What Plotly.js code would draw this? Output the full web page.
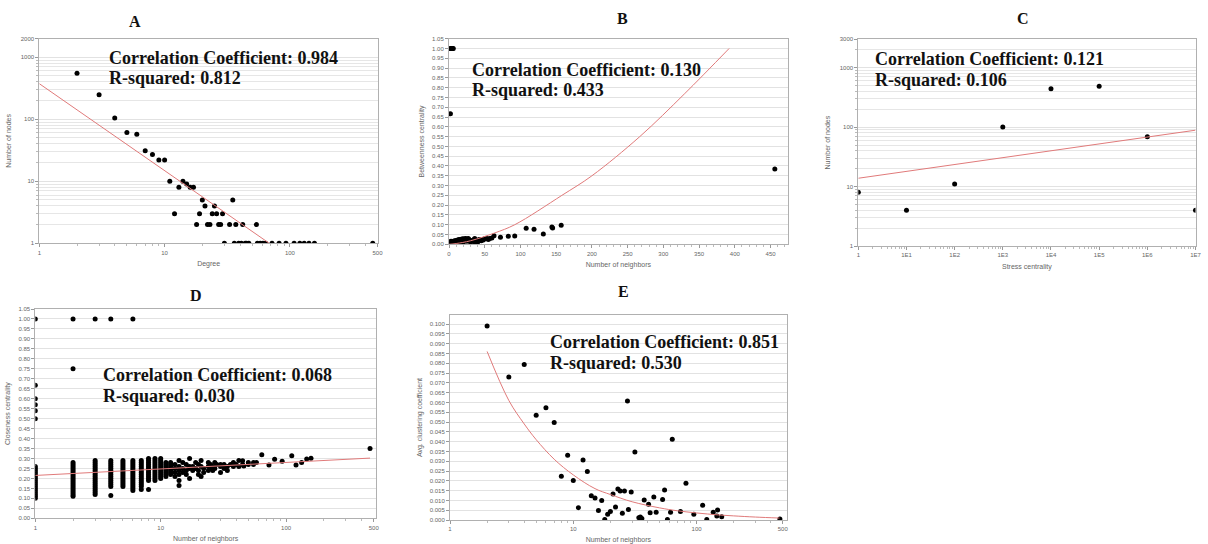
<!DOCTYPE html>
<html><head><meta charset="utf-8">
<script src="https://cdn.plot.ly/plotly-3.0.1.min.js"></script>
<style>html,body{margin:0;padding:0;background:#fff}#chart{width:1208px;height:544px}</style>
</head><body><div id="chart"></div>
<script>
// ---------- Panel A: degree distribution ----------
const aDegree = [2,3,4,5,6,7,8,9,10,11,12,13,14,15,16,17,18,19,20,21,22,23,24,25,26,27,28,29,30,33,35,36,37,39,41,42,44,45,47,54,55,58,61,64,72,82,93,108,120,130,142,157,458];
const aNodes  = [550,248,105,61,57,31,27,22,22,10,3,8,10,9,8,8,2,3,5,4,2,2,3,4,3,2,2,3,1,2,5,1,2,1,1,2,1,1,1,2,1,1,1,1,1,1,1,1,1,1,1,1,1];
const aFitX = [1, 68.5];
const aFitY = [374, 1];

// ---------- Panel B: betweenness centrality ----------
const bNeighbors = [2,3,4,5,6,2,
  1,2,3,4,5,6,7,8,9,10,11,12,13,14,15,16,17,18,19,20,21,22,23,24,25,26,27,28,30,32,34,35,36,37,38,40,42,44,45,46,48,50,53,55,57,60,
  2,5,8,12,15,20,25,30,35,40,
  63,72,83,92,108,119,132,144,145,157,456];
const bBetweenness = [1.0,1.0,1.0,1.0,1.0,0.667,
  0.010,0.012,0.015,0.010,0.013,0.015,0.012,0.018,0.016,0.020,0.015,0.022,0.018,0.025,0.020,0.024,0.018,0.027,0.022,0.028,0.020,0.025,0.030,0.020,0.027,0.022,0.030,0.025,0.020,0.018,0.015,0.025,0.030,0.012,0.020,0.015,0.025,0.020,0.018,0.024,0.022,0.028,0.030,0.025,0.030,0.032,
  0.005,0.006,0.008,0.010,0.012,0.010,0.015,0.012,0.014,0.010,
  0.044,0.036,0.041,0.042,0.082,0.077,0.053,0.088,0.083,0.097,0.385];
const bFitX = [0, 10, 30, 64, 92, 158, 200, 267, 330, 392];
const bFitY = [0, 0.004, 0.018, 0.058, 0.10, 0.25, 0.35, 0.55, 0.77, 1.0];

// ---------- Panel C: stress centrality ----------
const cStress = [1, 1e1, 1e2, 1e3, 1e4, 1e5, 1e6, 1e7];
const cNodes  = [8, 4, 11, 100, 440, 488, 69, 4];
const cFitX = [1, 1e7];
const cFitY = [13.8, 88.7];
const cTickVals = [1, 1e1, 1e2, 1e3, 1e4, 1e5, 1e6, 1e7];
const cTickText = ['1','1E1','1E2','1E3','1E4','1E5','1E6','1E7'];

// ---------- Panel D: closeness centrality ----------
const dColumnX = [1,2,3,4,5,6,7,8,9,10,11,12];
const dColumnY = [
  [0.10,0.11,0.12,0.13,0.14,0.15,0.16,0.17,0.18,0.19,0.20,0.21,0.22,0.23,0.24,0.25,0.26,0.50,0.54,0.57,0.60,0.667,1.00],
  [0.11,0.12,0.13,0.14,0.15,0.16,0.17,0.18,0.19,0.20,0.21,0.22,0.23,0.24,0.25,0.26,0.27,0.28,0.75,1.00],
  [0.12,0.13,0.14,0.15,0.16,0.17,0.18,0.19,0.20,0.21,0.22,0.23,0.24,0.25,0.26,0.27,0.28,0.29,1.00],
  [0.115,0.16,0.17,0.18,0.19,0.20,0.21,0.22,0.23,0.24,0.25,0.26,0.27,0.28,0.29,1.00],
  [0.16,0.17,0.18,0.19,0.20,0.21,0.22,0.23,0.24,0.25,0.26,0.27,0.28,0.29],
  [0.14,0.15,0.16,0.17,0.18,0.19,0.20,0.21,0.22,0.23,0.24,0.25,0.26,0.27,0.28,0.29,1.00],
  [0.145,0.16,0.17,0.18,0.19,0.20,0.21,0.22,0.23,0.24,0.25,0.26,0.27,0.28,0.29],
  [0.145,0.19,0.20,0.21,0.22,0.23,0.24,0.25,0.26,0.27,0.28,0.29,0.30],
  [0.19,0.20,0.21,0.22,0.23,0.24,0.25,0.26,0.27,0.28,0.29,0.30],
  [0.20,0.21,0.22,0.23,0.24,0.25,0.26,0.27,0.28,0.29,0.30],
  [0.21,0.22,0.23,0.24,0.25,0.26,0.27,0.28],
  [0.22,0.23,0.24,0.25,0.26,0.27,0.28]
];
const dScatterX = [13,13,13,13,14,14,14,14,14,14,15,15,15,16,16,16,17,17,17,17,18,18,19,19,20,20,20,21,21,21,22,22,24,24,24,25,25,26,26,27,27,28,30,30,30,32,32,34,34,36,38,38,40,42,42,45,45,46,50,50,55,55,58,64,73,81,93,111,120,133,146,158,467];
const dScatterY = [0.27,0.25,0.23,0.21,0.29,0.26,0.24,0.22,0.19,0.165,0.28,0.25,0.23,0.27,0.24,0.22,0.30,0.26,0.25,0.20,0.26,0.24,0.28,0.25,0.27,0.24,0.22,0.29,0.26,0.21,0.25,0.23,0.28,0.26,0.24,0.25,0.27,0.26,0.24,0.28,0.25,0.27,0.27,0.23,0.26,0.25,0.27,0.26,0.24,0.27,0.28,0.26,0.27,0.29,0.26,0.289,0.27,0.263,0.27,0.28,0.28,0.27,0.28,0.319,0.267,0.296,0.286,0.314,0.268,0.28,0.297,0.301,0.35];
const dFitX = [1, 467];
const dFitY = [0.215, 0.302];

// ---------- Panel E: clustering coefficient ----------
const eNeighbors = [2,3,4,5,6,7,8,9,10,11,12,13,14,15,16,17,18,19,20,21,22,23,24,25,26,27.5,28,29.5,31.6,34,35,36,37.6,40.8,42,45,47,53,55,58,61.5,63.5,74,82,95,112,121,136.5,146,148,160,474];
const eClustering = [0.099,0.073,0.0794,0.0534,0.0573,0.0498,0.0223,0.033,0.0201,0.0063,0.0306,0.0247,0.0124,0.0112,0.0049,0.0099,0.0002,0.0029,0.0043,0.0133,0.0066,0.0158,0.0148,0.0034,0.0148,0.0607,0.0054,0.0143,0.0347,0.0012,0.0015,0.0008,0.0102,0.008,0.0037,0.0117,0.004,0.0105,0.0153,0.0002,0.004,0.0412,0.0043,0.0187,0.0029,0.0075,0.0002,0.0039,0.002,0.0051,0.0017,0.0005];
const eFitX = [2,3,4,5,7,10,15,20,30,50,70,100,150,200,300,470];
const eFitY = [0.086,0.061,0.049,0.041,0.031,0.023,0.016,0.013,0.0093,0.0062,0.0047,0.0036,0.0026,0.0021,0.0015,0.001];

// ---------- Text ----------
const panelLetters = ['A','B','C','D','E'];
const statLines = [
  ['Correlation Coefficient: 0.984','R-squared: 0.812'],
  ['Correlation Coefficient: 0.130','R-squared: 0.433'],
  ['Correlation Coefficient: 0.121','R-squared: 0.106'],
  ['Correlation Coefficient: 0.068','R-squared: 0.030'],
  ['Correlation Coefficient: 0.851','R-squared: 0.530']
];
const xTitles = ['Degree','Number of neighbors','Stress centrality','Number of neighbors','Number of neighbors'];
const yTitles = ['Number of nodes','Betweenness centrality','Number of nodes','Closeness centrality','Avg. clustering coefficient'];

// ---------- build ----------
const W = 1208, H = 544;
const px = v => v / W, py = v => 1 - v / H;
const dotStyle = {color:'#000', size:5};
const fitStyle = {color:'#e07a7a', width:1};
const serif = "'Liberation Serif', 'Times New Roman', serif";
const sans = "Arial, 'Liberation Sans', sans-serif";

function flatten(xs, ys){ const X=[],Y=[]; xs.forEach((x,i)=>ys[i].forEach(y=>{X.push(x);Y.push(y);})); return [X,Y]; }
const [dColX, dColY] = flatten(dColumnX, dColumnY);

const traces = [
  {x:aDegree, y:aNodes, mode:'markers', marker:dotStyle, xaxis:'x', yaxis:'y'},
  {x:aFitX, y:aFitY, mode:'lines', line:fitStyle, xaxis:'x', yaxis:'y'},
  {x:bNeighbors, y:bBetweenness, mode:'markers', marker:dotStyle, xaxis:'x2', yaxis:'y2'},
  {x:bFitX, y:bFitY, mode:'lines', line:Object.assign({shape:'spline'}, fitStyle), xaxis:'x2', yaxis:'y2'},
  {x:cStress, y:cNodes, mode:'markers', marker:dotStyle, xaxis:'x3', yaxis:'y3'},
  {x:cFitX, y:cFitY, mode:'lines', line:fitStyle, xaxis:'x3', yaxis:'y3'},
  {x:dColX, y:dColY, mode:'markers', marker:dotStyle, xaxis:'x4', yaxis:'y4'},
  {x:dScatterX, y:dScatterY, mode:'markers', marker:dotStyle, xaxis:'x4', yaxis:'y4'},
  {x:dFitX, y:dFitY, mode:'lines', line:fitStyle, xaxis:'x4', yaxis:'y4'},
  {x:eNeighbors, y:eClustering, mode:'markers', marker:dotStyle, xaxis:'x5', yaxis:'y5'},
  {x:eFitX, y:eFitY, mode:'lines', line:Object.assign({shape:'spline'}, fitStyle), xaxis:'x5', yaxis:'y5'}
];

const tickFont = {family:sans, size:6, color:'#666'};
const titleFont = {family:sans, size:7, color:'#666'};
function axis(extra){
  return Object.assign({
    showline:true, mirror:true, linecolor:'#b0b0b0', linewidth:1,
    ticks:'outside', ticklen:3, tickcolor:'#999', tickfont:tickFont,
    showgrid:false, gridcolor:'#e2e2e2', gridwidth:1, zeroline:false, automargin:false, fixedrange:true
  }, extra);
}
const logMinorGrid = {dtick:'D1', ticks:'outside', ticklen:2, tickcolor:'#bbb', showgrid:true, gridcolor:'#e6e6e6'};
const logMinorTicks = {dtick:'D1', ticks:'outside', ticklen:2, tickcolor:'#bbb', showgrid:false};

// panel frames in pixels: [left, right, top, bottom]
const frames = [[39.3,378,38.5,243.3],[449,787.7,38.7,244.3],[858.3,1195.5,39.3,246],[35.3,376,309,518.3],[450,786.7,315,520]];
const dom = f => ({x:[px(f[0]),px(f[1])], y:[py(f[3]),py(f[2])]});

const layout = {
  width:W, height:H, margin:{l:0,r:0,t:0,b:0}, showlegend:false,
  paper_bgcolor:'#fff', plot_bgcolor:'#fff',
  xaxis: axis({type:'log', domain:dom(frames[0]).x, anchor:'y', range:[0,2.703], tickmode:'array', tickvals:[1,10,100,500], ticktext:['1','10','100','500'], minor:logMinorTicks,
    title:{text:xTitles[0], font:titleFont, standoff:6}}),
  yaxis: axis({type:'log', domain:dom(frames[0]).y, anchor:'x', range:[0,Math.log10(2000)], tickmode:'array', tickvals:[1,10,100,1000,2000], ticktext:['1','10','100','1000','2000'], showgrid:true, minor:logMinorGrid,
    title:{text:yTitles[0], font:titleFont, standoff:8}}),
  xaxis2: axis({domain:dom(frames[1]).x, anchor:'y2', range:[0,474], dtick:50, minor:{dtick:10, ticks:'outside', ticklen:2, tickcolor:'#bbb'},
    title:{text:xTitles[1], font:titleFont, standoff:6}}),
  yaxis2: axis({domain:dom(frames[1]).y, anchor:'x2', range:[0,1.05], dtick:0.05, tickformat:'.2f', showgrid:true,
    title:{text:yTitles[1], font:titleFont, standoff:6}}),
  xaxis3: axis({type:'log', domain:dom(frames[2]).x, anchor:'y3', range:[0,7], tickmode:'array', tickvals:cTickVals, ticktext:cTickText, minor:logMinorTicks,
    title:{text:xTitles[2], font:titleFont, standoff:6}}),
  yaxis3: axis({type:'log', domain:dom(frames[2]).y, anchor:'x3', range:[0,Math.log10(3000)], tickmode:'array', tickvals:[1,10,100,1000,3000], ticktext:['1','10','100','1000','3000'], showgrid:true, minor:logMinorGrid,
    title:{text:yTitles[2], font:titleFont, standoff:8}}),
  xaxis4: axis({type:'log', domain:dom(frames[3]).x, anchor:'y4', range:[0,2.717], tickmode:'array', tickvals:[1,10,100,500], ticktext:['1','10','100','500'], minor:logMinorTicks,
    title:{text:xTitles[3], font:titleFont, standoff:6}}),
  yaxis4: axis({domain:dom(frames[3]).y, anchor:'x4', range:[0,1.05], dtick:0.05, tickformat:'.2f', showgrid:true,
    title:{text:yTitles[3], font:titleFont, standoff:6}}),
  xaxis5: axis({type:'log', domain:dom(frames[4]).x, anchor:'y5', range:[0,2.731], tickmode:'array', tickvals:[1,10,100,500], ticktext:['1','10','100','500'], minor:logMinorTicks,
    title:{text:xTitles[4], font:titleFont, standoff:6}}),
  yaxis5: axis({domain:dom(frames[4]).y, anchor:'x5', range:[0,0.1046], dtick:0.005, tickformat:'.3f', showgrid:true,
    title:{text:yTitles[4], font:titleFont, standoff:6}}),
  annotations: []
};

// panel letters
const letterPos = [[135,22],[622,19],[1023,19],[196,295],[623,291]];
panelLetters.forEach((t,i)=>layout.annotations.push({text:'<b>'+t+'</b>', x:px(letterPos[i][0]), y:py(letterPos[i][1]), xref:'paper', yref:'paper', xanchor:'center', yanchor:'middle', showarrow:false, font:{family:serif, size:16, color:'#111'}}));
// statistics text
const statPos = [[107,57.5,77.5],[470,70,89.5],[872.5,59,80],[100.5,375,395.5],[548.3,341.7,362.7]];
statLines.forEach((lines,i)=>lines.forEach((t,j)=>layout.annotations.push({text:'<b>'+t+'</b>', x:px(statPos[i][0]), y:py(statPos[i][1+j]), xref:'paper', yref:'paper', xanchor:'left', yanchor:'middle', showarrow:false, font:{family:serif, size:18, color:'#111'}})));

Plotly.newPlot('chart', traces, layout, {displayModeBar:false, staticPlot:true});
</script></body></html>
